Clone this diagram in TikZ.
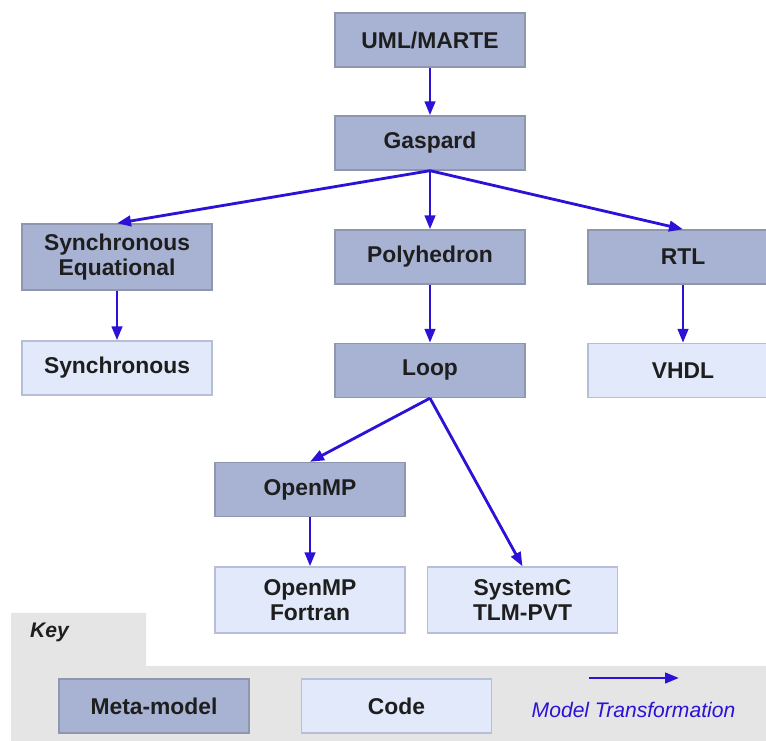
\documentclass[tikz,border=0pt]{standalone}
\usepackage{fontspec}
\setmainfont{Liberation Sans}
\usepackage{tikz}
\usetikzlibrary{positioning}
\usetikzlibrary{arrows.meta,arrows}

\definecolor{metafill}{HTML}{A8B3D4}
\definecolor{metaline}{HTML}{8F97AF}
\definecolor{codefill}{HTML}{E1E9FA}
\definecolor{codeline}{HTML}{B7BFD6}
\definecolor{arblue}{HTML}{2B12D6}
\definecolor{keygray}{HTML}{E5E5E5}
\definecolor{txt}{HTML}{1E1E1E}

\begin{document}
\begin{tikzpicture}[node distance={2.06cm}, box/.style={rectangle, draw, line width=0.8pt, minimum width=3.8cm, minimum height=1.08cm, align=center, text=txt, font=\fontsize{13}{14.2}\selectfont\bfseries}, meta/.style={box, fill=metafill, draw=metaline}, code/.style={box, fill=codefill, draw=codeline}, ar/.style={-{Triangle[length=2.8mm, width=2.1mm]}, line width=1.6pt, arblue}]
      \useasboundingbox (0,0) rectangle (15.32,-14.82);
      % key background
      \fill[keygray] (0.22,-12.26) -- (2.92,-12.26) -- (2.92,-13.32) -- (15.32,-13.32) -- (15.32,-14.82) -- (0.22,-14.82) -- cycle;

      \node[meta] (uml) at (8.6,-0.8) {UML/MARTE};
      \node[meta] (gaspard) [below of=uml] {Gaspard};
      \node[meta] (poly) [below of=gaspard, node distance=2.28cm] {Polyhedron};
      \node[meta, minimum height=1.32cm] (syneq) [left of=poly, node distance=6.26cm] {Synchronous\\Equational};
      \node[meta] (rtl) [right of=poly, node distance=5.06cm] {RTL};
      \node[code] (sync) [below of=syneq, node distance=2.22cm] {Synchronous};
      \node[meta] (loop) [below of=poly, node distance=2.27cm] {Loop};
      \node[code] (vhdl) [right of=loop, node distance=5.06cm] {VHDL};
      \node[meta] (openmp) [below of=loop, node distance=2.38cm, xshift=-2.4cm] {OpenMP};
      \node[code, minimum height=1.32cm] (fortran) [below of=openmp, node distance=2.21cm] {OpenMP\\Fortran};
      \node[code, minimum height=1.32cm] (systemc) [right of=fortran, node distance=4.25cm] {SystemC\\TLM-PVT};

      \draw[ar] (uml) -- (gaspard);
      \draw[ar] (gaspard.south) -- (syneq.north);
      \draw[ar] (gaspard) -- (poly);
      \draw[ar] (gaspard.south) -- (rtl.north);
      \draw[ar] (syneq) -- (sync);
      \draw[ar] (poly) -- (loop);
      \draw[ar] (rtl) -- (vhdl);
      \draw[ar] (loop.south) -- (openmp.north);
      \draw[ar] (loop.south) -- (systemc.north);
      \draw[ar] (openmp) -- (fortran);

      % key
      \node[anchor=west, text=txt, font=\fontsize{12}{14}\selectfont\bfseries\itshape] (key) at (0.48,-12.64) {Key};
      \node[meta] (kmeta) at (3.08,-14.12) {Meta-model};
      \node[code] (kcode) [right of=kmeta, node distance=4.85cm] {Code};
      \coordinate (ka) at (11.78,-13.56);
      \coordinate (kb) at (13.58,-13.56);
      \draw[ar] (ka) -- (kb);
      \node[text=arblue, font=\fontsize{12}{14}\selectfont\itshape] (ktrans) at (12.67,-14.2) {Model Transformation};
    \end{tikzpicture}
\end{document}
